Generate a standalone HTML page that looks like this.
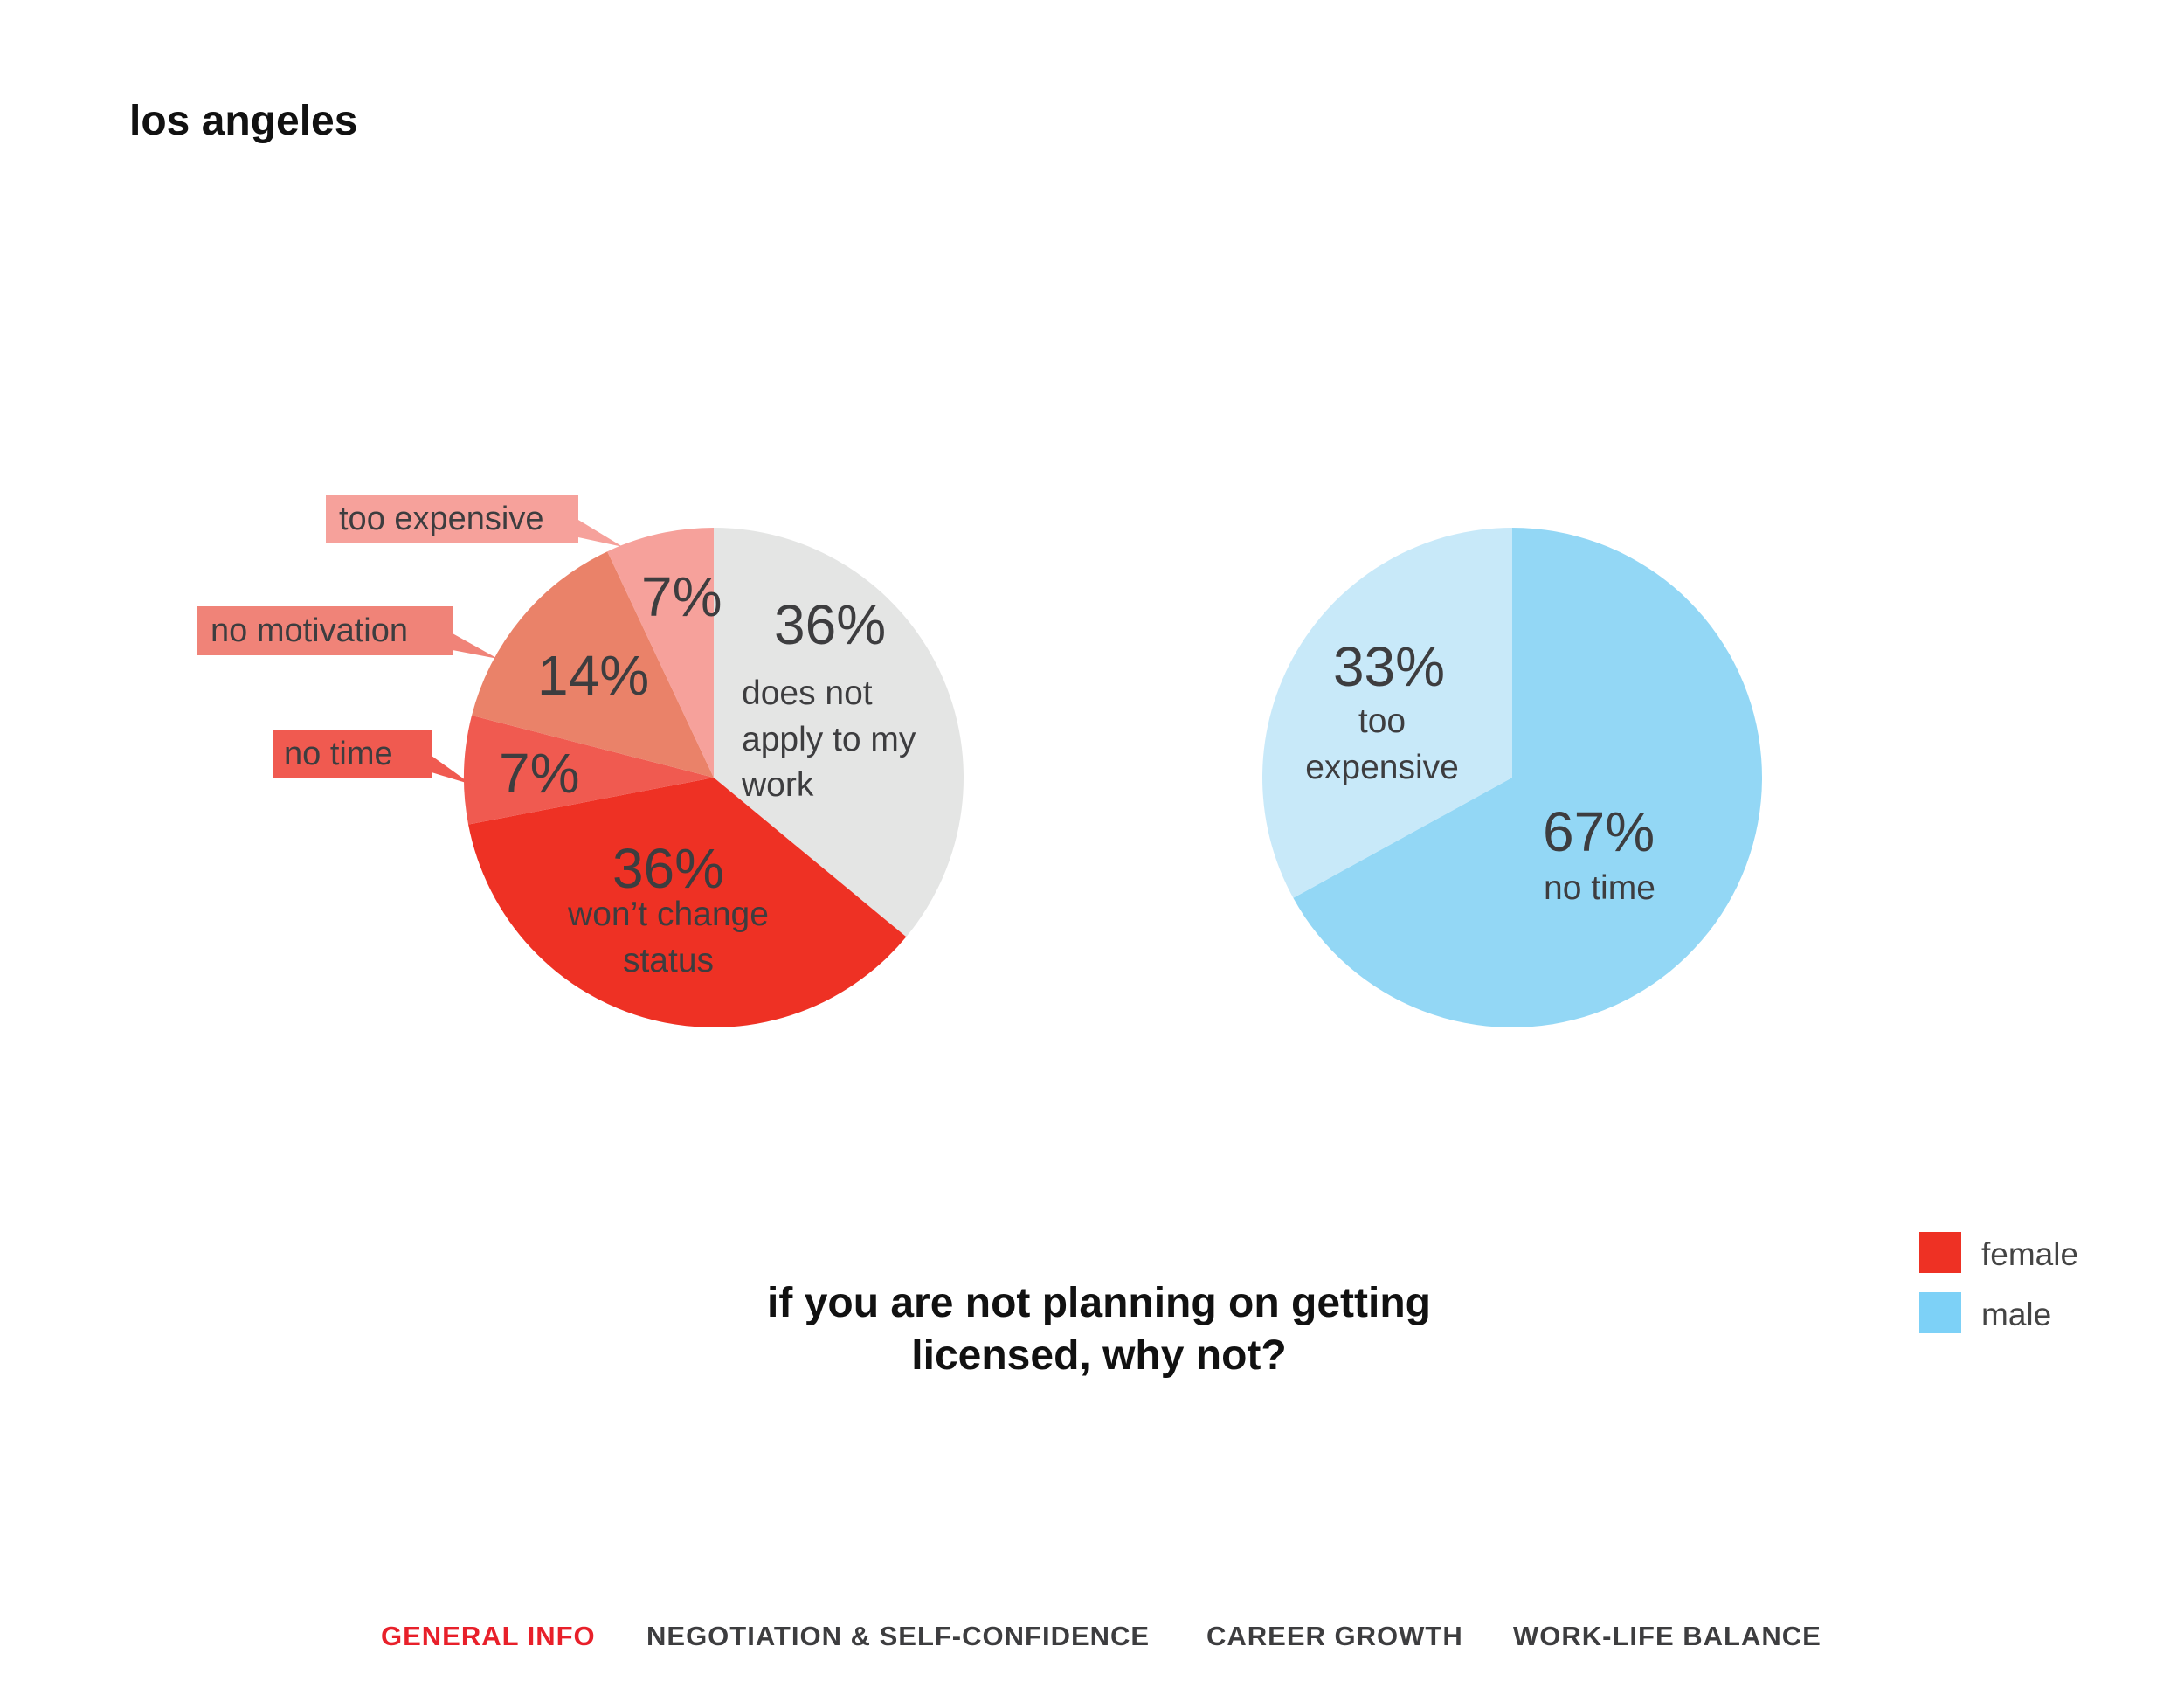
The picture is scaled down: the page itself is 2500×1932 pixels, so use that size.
<!DOCTYPE html>
<html><head><meta charset="utf-8">
<style>
html,body{margin:0;padding:0;background:#fff;}
svg{display:block;font-family:"Liberation Sans",sans-serif;}
</style></head>
<body>
<svg id="chart" width="2500" height="1932" viewBox="0 0 2500 1932" xmlns="http://www.w3.org/2000/svg">
<text x="148" y="154" font-size="48" font-weight="bold" fill="#111">los angeles</text>
<g id="femalePie"></g>
<g id="malePie"></g>

<g>
<polygon points="662,595 713,626 662,615" fill="#f6a19b"/>
<rect x="373" y="566" width="289" height="56" fill="#f6a19b"/>
<text x="388" y="606" font-size="38" fill="#3d3d3f">too expensive</text>
</g>
<g>
<polygon points="518,725 570,754 518,744" fill="#f08378"/>
<rect x="226" y="694" width="292" height="56" fill="#f08378"/>
<text x="241" y="734" font-size="38" fill="#3d3d3f">no motivation</text>
</g>
<g>
<polygon points="494,865 540,898 494,884" fill="#f05a50"/>
<rect x="312" y="835" width="182" height="56" fill="#f05a50"/>
<text x="325" y="875" font-size="38" fill="#3d3d3f">no time</text>
</g>

<g fill="#3d3d3f">
<text x="734" y="705" font-size="64">7%</text>
<text x="886" y="737" font-size="64">36%</text>
<text x="849" y="806" font-size="39">does not</text>
<text x="849" y="859" font-size="39">apply to my</text>
<text x="849" y="911" font-size="39">work</text>
<text x="615" y="795" font-size="64">14%</text>
<text x="571" y="907" font-size="64">7%</text>
<text x="765" y="1016" font-size="64" text-anchor="middle">36%</text>
<text x="765" y="1059" font-size="39" text-anchor="middle">won’t change</text>
<text x="765" y="1112" font-size="39" text-anchor="middle">status</text>
</g>
<g fill="#3d3d3f">
<text x="1590" y="785" font-size="64" text-anchor="middle">33%</text>
<text x="1582" y="838" font-size="39" text-anchor="middle">too</text>
<text x="1582" y="891" font-size="39" text-anchor="middle">expensive</text>
<text x="1766" y="974" font-size="64">67%</text>
<text x="1767" y="1029" font-size="39">no time</text>
</g>

<g>
<rect x="2197" y="1410" width="48" height="47" fill="#ee3124"/>
<text x="2268" y="1448" font-size="37" fill="#444">female</text>
<rect x="2197" y="1479" width="48" height="47" fill="#7dd1f7"/>
<text x="2268" y="1517" font-size="37" fill="#444">male</text>
</g>

<g font-size="48" font-weight="bold" fill="#111" text-anchor="middle">
<text x="1258" y="1507">if you are not planning on getting</text>
<text x="1258" y="1567">licensed, why not?</text>
</g>

<g font-size="31" font-weight="bold" letter-spacing="1">
<text x="436" y="1883" fill="#e8202a">GENERAL INFO</text>
<text x="740" y="1883" fill="#3d3d3f">NEGOTIATION &amp; SELF-CONFIDENCE</text>
<text x="1381" y="1883" fill="#3d3d3f">CAREER GROWTH</text>
<text x="1732" y="1883" fill="#3d3d3f">WORK-LIFE BALANCE</text>
</g>
</svg>
<script>
const femaleCategories = ["does not apply to my work", "won't change status", "no time", "no motivation", "too expensive"];
const femaleValues = [36, 36, 7, 14, 7];
const femaleColors = ["#e4e5e4", "#ee3124", "#f05a50", "#ea8269", "#f6a19b"];
const maleCategories = ["no time", "too expensive"];
const maleValues = [67, 33];
const maleColors = ["#93d7f5", "#c8e9f9"];

const NS = "http://www.w3.org/2000/svg";
function angleScale(v, total){ return v / total * Math.PI * 2; }
function pt(cx, cy, r, a){ return [cx + r * Math.sin(a), cy - r * Math.cos(a)]; }
function drawPie(groupId, cats, vals, cols, cx, cy, r, prefix){
  const g = document.getElementById(groupId);
  const total = vals.reduce((s, v) => s + v, 0);
  let a0 = 0;
  vals.forEach((v, i) => {
    const a1 = a0 + angleScale(v, total);
    const p0 = pt(cx, cy, r, a0), p1 = pt(cx, cy, r, a1);
    const large = (a1 - a0) > Math.PI ? 1 : 0;
    const path = document.createElementNS(NS, "path");
    path.setAttribute("d", `M${cx},${cy} L${p0[0]},${p0[1]} A${r},${r} 0 ${large} 1 ${p1[0]},${p1[1]} Z`);
    path.setAttribute("fill", cols[i]);
    
    
    g.appendChild(path);
    a0 = a1;
  });
}
drawPie("femalePie", femaleCategories, femaleValues, femaleColors, 817, 890, 286, "female");
drawPie("malePie", maleCategories, maleValues, maleColors, 1731, 890, 286, "male");
</script>
</body></html>
